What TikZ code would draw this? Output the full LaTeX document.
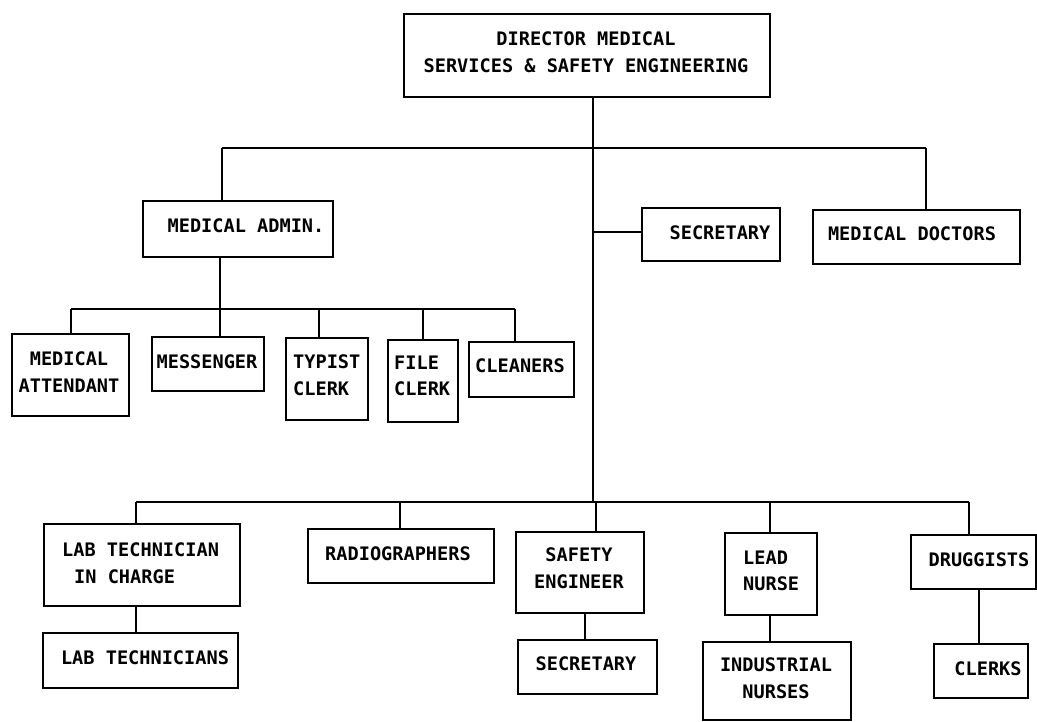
\documentclass[tikz,border=0pt]{standalone}
\usepackage{fontspec}
\newfontfamily\orgfont{DejaVu Sans Mono}[BoldFont={DejaVu Sans Mono Bold}]
\begin{document}
\begin{tikzpicture}[x=1pt, y=-1pt,
  box/.style={draw, line width=1.6pt, rectangle, inner sep=0pt, anchor=north west},
  lbl/.style={font=\orgfont\bfseries\fontsize{18.6}{26.5}\selectfont, inner sep=0pt, align=center},
  lbll/.style={lbl, align=left, anchor=west},
  wire/.style={line width=1.6pt}]
\useasboundingbox[fill=white] (0,0) rectangle (1037,721);

% ---- boxes (top-left corner, size) ----
\node[box, minimum width=366pt, minimum height=83pt] (dir)  at (403,13)  {};
\node[box, minimum width=190pt, minimum height=56pt] (madm) at (142,200) {};
\node[box, minimum width=138pt, minimum height=53pt] (sec1) at (641,207) {};
\node[box, minimum width=207pt, minimum height=54pt] (mdoc) at (812,209) {};

\node[box, minimum width=117pt, minimum height=82pt] (matt) at (11,333)  {};
\node[box, minimum width=112pt, minimum height=54pt] (mess) at (151,336) {};
\node[box, minimum width=82pt,  minimum height=82pt] (typ)  at (285,337) {};
\node[box, minimum width=70pt,  minimum height=82pt] (fcl)  at (387,339) {};
\node[box, minimum width=105pt, minimum height=55pt] (cln)  at (468,341) {};

\node[box, minimum width=196pt, minimum height=82pt] (lti)  at (43,523)  {};
\node[box, minimum width=195pt, minimum height=55pt] (lt)   at (42,632)  {};
\node[box, minimum width=186pt, minimum height=54pt] (rad)  at (307,528) {};
\node[box, minimum width=128pt, minimum height=81pt] (se)   at (515,531) {};
\node[box, minimum width=139pt, minimum height=54pt] (sec2) at (517,639) {};
\node[box, minimum width=92pt,  minimum height=82pt] (ln)   at (724,532) {};
\node[box, minimum width=148pt, minimum height=78pt] (ind)  at (702,641) {};
\node[box, minimum width=125pt, minimum height=54pt] (drg)  at (910,534) {};
\node[box, minimum width=94pt,  minimum height=54pt] (clk)  at (933,643) {};

% ---- texts ----
\node[lbl]  (dir-t)  at (586,52)  {DIRECTOR MEDICAL\\SERVICES \& SAFETY ENGINEERING};
\node[lbl]  (madm-t) at (246,226) {MEDICAL ADMIN.};
\node[lbl]  (sec1-t) at (720,233) {SECRETARY};
\node[lbl]  (mdoc-t) at (912,234) {MEDICAL DOCTORS};
\node[lbl]  (matt-t) at (69,372)  {MEDICAL\\ATTENDANT};
\node[lbl]  (mess-t) at (207,362) {MESSENGER};
\node[lbll] (typ-t)  at (293,375) {TYPIST\\CLERK};
\node[lbll] (fcl-t)  at (394,376) {FILE\\CLERK};
\node[lbl]  (cln-t)  at (520,366) {CLEANERS};
\node[lbll] (lti-t)  at (62,563)  {LAB TECHNICIAN\\\hspace*{12pt}IN CHARGE};
\node[lbl]  (lt-t)   at (145,658) {LAB TECHNICIANS};
\node[lbl]  (rad-t)  at (398,554) {RADIOGRAPHERS};
\node[lbl]  (se-t)   at (579,568) {SAFETY\\ENGINEER};
\node[lbl]  (sec2-t) at (586,664) {SECRETARY};
\node[lbll] (ln-t)   at (743,571) {LEAD\\NURSE};
\node[lbl]  (ind-t)  at (776,678) {INDUSTRIAL\\NURSES};
\node[lbl]  (drg-t)  at (979,560) {DRUGGISTS};
\node[lbl]  (clk-t)  at (988,669) {CLERKS};

% ---- bus bars and junctions ----
\coordinate (topL) at (222,148);
\coordinate (topR) at (926,148);
\coordinate (spA)  at (593,148);
\coordinate (spB)  at (593,232);
\coordinate (spC)  at (593,502);
\coordinate (admL) at (71,309);
\coordinate (admM) at (220,309);
\coordinate (admT) at (319,309);
\coordinate (admF) at (423,309);
\coordinate (admR) at (515,309);
\coordinate (botL) at (136,502);
\coordinate (botD) at (400,502);
\coordinate (botS) at (596,502);
\coordinate (botN) at (770,502);
\coordinate (botR) at (969,502);

% spine from the director down to the lower bar
\draw[wire] (dir.south -| spA) -- (spC);
\draw[wire] (topL) -- (topR);
\draw[wire] (topL) -- (topL |- madm.north);
\draw[wire] (topR) -- (topR |- mdoc.north);
\draw[wire] (spB) -- (sec1.west |- spB);

% medical administration group
\draw[wire] (madm.south -| admM) -- (admM);
\draw[wire] (admL) -- (admR);
\draw[wire] (admL) -- (admL |- matt.north);
\draw[wire] (admM) -- (admM |- mess.north);
\draw[wire] (admT) -- (admT |- typ.north);
\draw[wire] (admF) -- (admF |- fcl.north);
\draw[wire] (admR) -- (admR |- cln.north);

% lower group
\draw[wire] (botL) -- (botR);
\draw[wire] (botL) -- (botL |- lti.north);
\draw[wire] (botD) -- (botD |- rad.north);
\draw[wire] (botS) -- (botS |- se.north);
\draw[wire] (botN) -- (botN |- ln.north);
\draw[wire] (botR) -- (botR |- drg.north);

% second-level links
\draw[wire] (lti.south -| botL) -- (lt.north -| botL);
\draw[wire] (se.south -| 585,0) -- (sec2.north -| 585,0);
\draw[wire] (ln.south -| botN) -- (ind.north -| botN);
\draw[wire] (drg.south -| 979,0) -- (clk.north -| 979,0);
\end{tikzpicture}
\end{document}
